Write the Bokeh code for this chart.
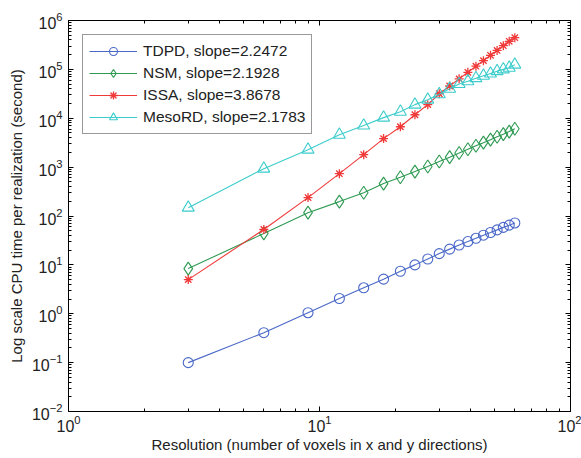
from bokeh.plotting import figure
from bokeh.models import (Range1d, LogAxis, FixedTicker, Legend, LegendItem, ColumnDataSource)
from bokeh.embed import file_html
from bokeh.resources import INLINE

resolution = [3, 6, 9, 12, 15, 18, 21, 24, 27, 30, 33, 36, 39, 42, 45, 48, 51, 54, 57, 60]
tdpd = [0.1, 0.41, 1.05, 2.05, 3.4, 5.1, 7.4, 10.0, 13.2, 17.0, 21.0, 25.5, 30.0, 35.0, 40.5, 46.0, 52.0, 58.5, 65.0, 72.0]
nsm = [8.4, 44, 117, 197, 300, 460, 620, 810, 1030, 1300, 1600, 1940, 2320, 2730, 3170, 3650, 4170, 4730, 5330, 6100]
issa = [5.0, 53, 238, 735, 1800, 3830, 6700, 11800, 19000, 31700, 45700, 64000, 87100, 116000, 151000, 194000, 244000, 305000, 375000, 445000]
mesord = [148, 930, 2280, 4600, 7070, 10300, 13600, 19000, 24000, 31000, 40000, 50000, 57000, 66000, 74000, 82000, 92000, 100000, 108000, 125000]
labels = ["TDPD, slope=2.2472", "NSM, slope=2.1928", "ISSA, slope=3.8678", "MesoRD, slope=2.1783"]
colors = ["#4a68c8", "#2e9a52", "#f03a3a", "#3ccccc"]

FONT = "Liberation Sans"

p = figure(width=581, height=458, x_axis_type="log", y_axis_type="log",
           x_range=Range1d(1, 100), y_range=Range1d(1e-2, 1e6),
           output_backend="svg", toolbar_location=None,
           min_border_left=68, min_border_right=11, min_border_top=20, min_border_bottom=47,
           frame_width=502, frame_height=391)
p.background_fill_color = "white"
p.border_fill_color = "white"
p.outline_line_color = "black"
p.outline_line_width = 1
p.xgrid.visible = False
p.ygrid.visible = False

xmaj = [1, 10, 100]
xmin = [k * 10**e for e in range(0, 2) for k in range(2, 10)]
ymaj = [10.0**e for e in range(-2, 7)]
ymin = [k * 10.0**e for e in range(-2, 6) for k in range(2, 10)]

def style(ax, labels_on=True):
    ax.major_tick_in = 5
    ax.major_tick_out = 0
    ax.minor_tick_in = 3
    ax.minor_tick_out = 0
    ax.axis_line_color = "black"
    ax.major_tick_line_color = "black"
    ax.minor_tick_line_color = "black"
    ax.major_label_text_font = FONT
    ax.major_label_text_font_size = "16px"
    ax.major_label_text_color = "#222222"
    if not labels_on:
        ax.major_label_text_font_size = "0px"
        ax.major_label_text_alpha = 0

p.xaxis.ticker = FixedTicker(ticks=xmaj, minor_ticks=xmin)
p.yaxis.ticker = FixedTicker(ticks=ymaj, minor_ticks=ymin)
style(p.xaxis[0])
style(p.yaxis[0])
p.xaxis.major_label_standoff = 3
p.yaxis.major_label_standoff = 6
p.xaxis.axis_label = "Resolution (number of voxels in x and y directions)"
p.yaxis.axis_label = "Log scale CPU time per realization (second)"
for ax in (p.xaxis[0], p.yaxis[0]):
    ax.axis_label_text_font = FONT
    ax.axis_label_text_font_size = "15px"
    ax.axis_label_text_font_style = "normal"
    ax.axis_label_text_color = "#222222"
p.xaxis.axis_label_standoff = 1
p.yaxis.axis_label_standoff = 4

top = LogAxis(ticker=FixedTicker(ticks=xmaj, minor_ticks=xmin))
right = LogAxis(ticker=FixedTicker(ticks=ymaj, minor_ticks=ymin))
style(top, False)
style(right, False)
p.add_layout(top, "above")
p.add_layout(right, "right")

items = []
series = [tdpd, nsm, issa, mesord]
markers = ["circle", "diamond", "asterisk", "triangle"]
sizes = [10, 13, 9, 12]
for vals, lab, col, mk, sz in zip(series, labels, colors, markers, sizes):
    src = ColumnDataSource(dict(x=resolution, y=vals))
    r1 = p.line("x", "y", source=src, line_color=col, line_width=1.1)
    if mk == "asterisk":
        r2 = p.scatter("x", "y", source=src, marker="asterisk", size=sz, line_color=col, line_width=1.3)
        r3 = p.scatter("x", "y", source=src, marker="x", size=sz - 2, line_color=col, line_width=1.0)
        rs = [r1, r2, r3]
    else:
        r2 = p.scatter("x", "y", source=src, marker=mk, size=sz, line_color=col,
                       fill_color=None, line_width=1.1)
        rs = [r1, r2]
    items.append(LegendItem(label=lab, renderers=rs))

legend = Legend(items=items, location="top_left")
legend.label_text_font = FONT
legend.label_text_font_size = "15.5px"
legend.label_text_color = "#222222"
legend.border_line_color = "#333333"
legend.border_line_width = 1
legend.background_fill_alpha = 1
legend.margin = 14
legend.padding = 6
legend.spacing = 2
legend.glyph_width = 48
legend.glyph_height = 20
legend.label_height = 20
legend.label_standoff = 6
p.add_layout(legend)

open("out.html", "w").write(file_html(p, INLINE))
